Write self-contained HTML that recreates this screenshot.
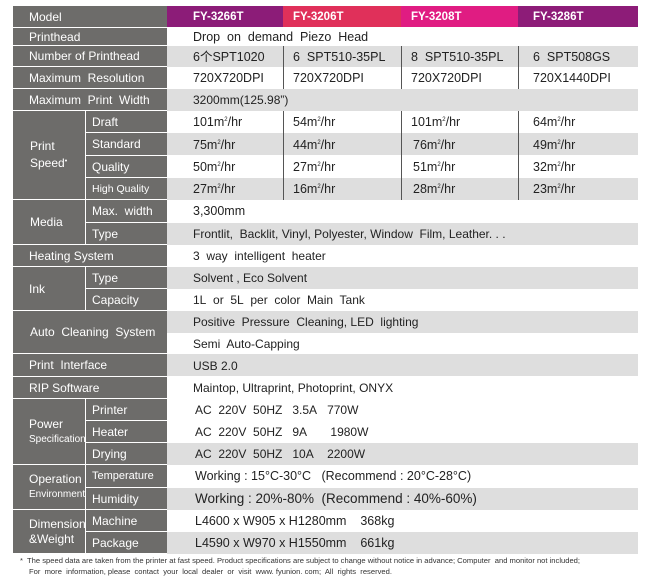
<!DOCTYPE html>
<html><head><meta charset="utf-8"><style>
body{margin:0;width:649px;height:582px;background:#fff;position:relative;overflow:hidden;font-family:"Liberation Sans","Noto Sans CJK SC",sans-serif;}
.v{position:absolute;left:167px;width:471px;}
.g{background:#dedede;}
.L{position:absolute;background:#6d6c6a;color:#fff;font-size:12px;display:flex;align-items:center;box-sizing:border-box;}
.t{position:absolute;font-size:12.5px;color:#222;white-space:pre;line-height:1;}
.h{position:absolute;top:6px;height:21px;color:#fff;font-weight:bold;font-size:11.5px;display:flex;align-items:center;box-sizing:border-box;padding-left:26px;}
.vl{position:absolute;width:1px;background:#555;}
sup{font-size:6px;vertical-align:5px;}
</style></head><body>
<div class="v g" style="top:46px;height:21px"></div>
<div class="v g" style="top:89px;height:22px"></div>
<div class="v g" style="top:133px;height:22px"></div>
<div class="v g" style="top:178px;height:22px"></div>
<div class="v g" style="top:223px;height:22px"></div>
<div class="v g" style="top:267px;height:22px"></div>
<div class="v g" style="top:311px;height:22px"></div>
<div class="v g" style="top:354px;height:22px"></div>
<div class="v g" style="top:443px;height:22px"></div>
<div class="v g" style="top:488px;height:22px"></div>
<div class="v g" style="top:532px;height:22px"></div>
<div class="vl" style="left:283px;top:46px;height:43px"></div>
<div class="vl" style="left:401px;top:46px;height:43px"></div>
<div class="vl" style="left:518px;top:46px;height:43px"></div>
<div class="vl" style="left:283px;top:111px;height:89px"></div>
<div class="vl" style="left:401px;top:111px;height:89px"></div>
<div class="vl" style="left:518px;top:111px;height:89px"></div>
<div class="L" style="left:13px;top:6px;width:154px;height:21px;padding-left:16px">Model</div>
<div class="h" style="left:167px;width:116px;background:#8c1c78">FY-3266T</div>
<div class="h" style="left:283px;width:118px;background:#e0305a;padding-left:10px">FY-3206T</div>
<div class="h" style="left:401px;width:117px;background:#e01c82;padding-left:10px">FY-3208T</div>
<div class="h" style="left:518px;width:120px;background:#8d1c78;padding-left:15px">FY-3286T</div>
<div class="L" style="left:13px;top:28px;width:154px;height:17px;padding-left:16px">Printhead</div>
<div class="L" style="left:13px;top:46px;width:154px;height:20px;padding-left:16px">Number of Printhead</div>
<div class="L" style="left:13px;top:67px;width:154px;height:21px;padding-left:16px">Maximum&nbsp; Resolution</div>
<div class="L" style="left:13px;top:89px;width:154px;height:21px;padding-left:16px">Maximum&nbsp; Print&nbsp; Width</div>
<div class="L" style="left:13px;top:111px;width:72px;height:88px;padding-left:17px;line-height:15px"><div>Print<br>Speed<span style="font-size:7px;vertical-align:4px">•</span></div></div>
<div class="L" style="left:86px;top:111px;width:81px;height:21px;padding-left:6px">Draft</div>
<div class="L" style="left:86px;top:133px;width:81px;height:22px;padding-left:6px">Standard</div>
<div class="L" style="left:86px;top:156px;width:81px;height:21px;padding-left:6px">Quality</div>
<div class="L" style="left:86px;top:178px;width:81px;height:21px;padding-left:6px;font-size:10.5px">High Quality</div>
<div class="L" style="left:13px;top:200px;width:72px;height:44px;padding-left:17px">Media</div>
<div class="L" style="left:86px;top:200px;width:81px;height:22px;padding-left:6px">Max.&nbsp; width</div>
<div class="L" style="left:86px;top:223px;width:81px;height:21px;padding-left:6px">Type</div>
<div class="L" style="left:13px;top:245px;width:154px;height:21px;padding-left:16px">Heating System</div>
<div class="L" style="left:13px;top:267px;width:72px;height:43px;padding-left:16px">Ink</div>
<div class="L" style="left:86px;top:267px;width:81px;height:21px;padding-left:6px">Type</div>
<div class="L" style="left:86px;top:289px;width:81px;height:21px;padding-left:6px">Capacity</div>
<div class="L" style="left:13px;top:311px;width:154px;height:42px;padding-left:17px">Auto&nbsp; Cleaning&nbsp; System</div>
<div class="L" style="left:13px;top:354px;width:154px;height:22px;padding-left:16px">Print&nbsp; Interface</div>
<div class="L" style="left:13px;top:377px;width:154px;height:21px;padding-left:16px">RIP Software</div>
<div class="L" style="left:13px;top:399px;width:72px;height:65px;padding-left:16px;line-height:14px"><div>Power<br><span style="font-size:10px">Specification</span></div></div>
<div class="L" style="left:86px;top:399px;width:81px;height:21px;padding-left:6px">Printer</div>
<div class="L" style="left:86px;top:421px;width:81px;height:21px;padding-left:6px">Heater</div>
<div class="L" style="left:86px;top:443px;width:81px;height:21px;padding-left:6px">Drying</div>
<div class="L" style="left:13px;top:465px;width:72px;height:44px;padding-left:16px;line-height:14px"><div>Operation<br><span style="font-size:10px">Environment</span></div></div>
<div class="L" style="left:86px;top:465px;width:81px;height:22px;padding-left:6px;font-size:11px">Temperature</div>
<div class="L" style="left:86px;top:488px;width:81px;height:21px;padding-left:6px">Humidity</div>
<div class="L" style="left:13px;top:510px;width:72px;height:43px;padding-left:16px;line-height:15px"><div>Dimension<br>&amp;Weight</div></div>
<div class="L" style="left:86px;top:510px;width:81px;height:21px;padding-left:6px">Machine</div>
<div class="L" style="left:86px;top:532px;width:81px;height:21px;padding-left:6px">Package</div>
<div class="t" style="left:193px;top:31px">Drop&nbsp; on&nbsp; demand&nbsp; Piezo&nbsp; Head</div>
<div class="t" style="left:193px;top:51px">6个SPT1020</div><div class="t" style="left:293px;top:51px">6&nbsp; SPT510-35PL</div><div class="t" style="left:411px;top:51px">8&nbsp; SPT510-35PL</div><div class="t" style="left:533px;top:51px">6&nbsp; SPT508GS</div>
<div class="t" style="left:193px;top:72px">720X720DPI</div><div class="t" style="left:293px;top:72px">720X720DPI</div><div class="t" style="left:411px;top:72px">720X720DPI</div><div class="t" style="left:533px;top:72px">720X1440DPI</div>
<div class="t" style="left:193px;top:94px;font-size:12px">3200mm(125.98”)</div>
<div class="t" style="left:193px;top:116px">101m<sup>2</sup>/hr</div><div class="t" style="left:293px;top:116px">54m<sup>2</sup>/hr</div><div class="t" style="left:411px;top:116px">101m<sup>2</sup>/hr</div><div class="t" style="left:533px;top:116px">64m<sup>2</sup>/hr</div>
<div class="t" style="left:193px;top:139px">75m<sup>2</sup>/hr</div><div class="t" style="left:293px;top:139px">44m<sup>2</sup>/hr</div><div class="t" style="left:413px;top:139px">76m<sup>2</sup>/hr</div><div class="t" style="left:533px;top:139px">49m<sup>2</sup>/hr</div>
<div class="t" style="left:193px;top:161px">50m<sup>2</sup>/hr</div><div class="t" style="left:293px;top:161px">27m<sup>2</sup>/hr</div><div class="t" style="left:413px;top:161px">51m<sup>2</sup>/hr</div><div class="t" style="left:533px;top:161px">32m<sup>2</sup>/hr</div>
<div class="t" style="left:193px;top:183px">27m<sup>2</sup>/hr</div><div class="t" style="left:293px;top:183px">16m<sup>2</sup>/hr</div><div class="t" style="left:413px;top:183px">28m<sup>2</sup>/hr</div><div class="t" style="left:533px;top:183px">23m<sup>2</sup>/hr</div>
<div class="t" style="left:193px;top:205px">3,300mm</div>
<div class="t" style="left:193px;top:228px;font-size:12px">Frontlit,&nbsp; Backlit, Vinyl, Polyester, Window&nbsp; Film, Leather. . .</div>
<div class="t" style="left:193px;top:250px;font-size:12px">3&nbsp; way&nbsp; intelligent&nbsp; heater</div>
<div class="t" style="left:193px;top:272px;font-size:12px">Solvent , Eco Solvent</div>
<div class="t" style="left:193px;top:294px;font-size:12px">1L&nbsp; or&nbsp; 5L&nbsp; per&nbsp; color&nbsp; Main&nbsp; Tank</div>
<div class="t" style="left:193px;top:316px;font-size:12px">Positive&nbsp; Pressure&nbsp; Cleaning, LED&nbsp; lighting</div>
<div class="t" style="left:193px;top:338px;font-size:12px">Semi&nbsp; Auto-Capping</div>
<div class="t" style="left:193px;top:360px;font-size:12px">USB 2.0</div>
<div class="t" style="left:193px;top:382px;font-size:12px">Maintop, Ultraprint, Photoprint, ONYX</div>
<div class="t" style="left:195px;top:404px;font-size:12px">AC&nbsp; 220V&nbsp; 50HZ&nbsp;&nbsp; 3.5A&nbsp;&nbsp; 770W</div>
<div class="t" style="left:195px;top:426px;font-size:12px">AC&nbsp; 220V&nbsp; 50HZ&nbsp;&nbsp; 9A&nbsp;&nbsp;&nbsp;&nbsp;&nbsp;&nbsp; 1980W</div>
<div class="t" style="left:195px;top:448px;font-size:12px">AC&nbsp; 220V&nbsp; 50HZ&nbsp;&nbsp; 10A&nbsp;&nbsp;&nbsp; 2200W</div>
<div class="t" style="left:195px;top:470px;font-size:12.5px">Working : 15°C-30°C&nbsp;&nbsp; (Recommend : 20°C-28°C)</div>
<div class="t" style="left:195px;top:492px;font-size:13.5px">Working : 20%-80%&nbsp; (Recommend : 40%-60%)</div>
<div class="t" style="left:195px;top:515px;font-size:12.5px">L4600 x W905 x H1280mm&nbsp;&nbsp;&nbsp; 368kg</div>
<div class="t" style="left:195px;top:537px;font-size:12.5px">L4590 x W970 x H1550mm&nbsp;&nbsp;&nbsp; 661kg</div>
<div class="t" style="left:20px;top:557px;font-size:7.6px;color:#333">*&nbsp; The speed data are taken from the printer at fast speed. Product specifications are subject to change without notice in advance; Computer&nbsp; and monitor not included;</div>
<div class="t" style="left:29px;top:568px;font-size:7.6px;color:#333">For&nbsp; more&nbsp; information, please&nbsp; contact&nbsp; your&nbsp; local&nbsp; dealer&nbsp; or&nbsp; visit&nbsp; www. fyunion. com;&nbsp; All&nbsp; rights&nbsp; reserved.</div>
</body></html>
